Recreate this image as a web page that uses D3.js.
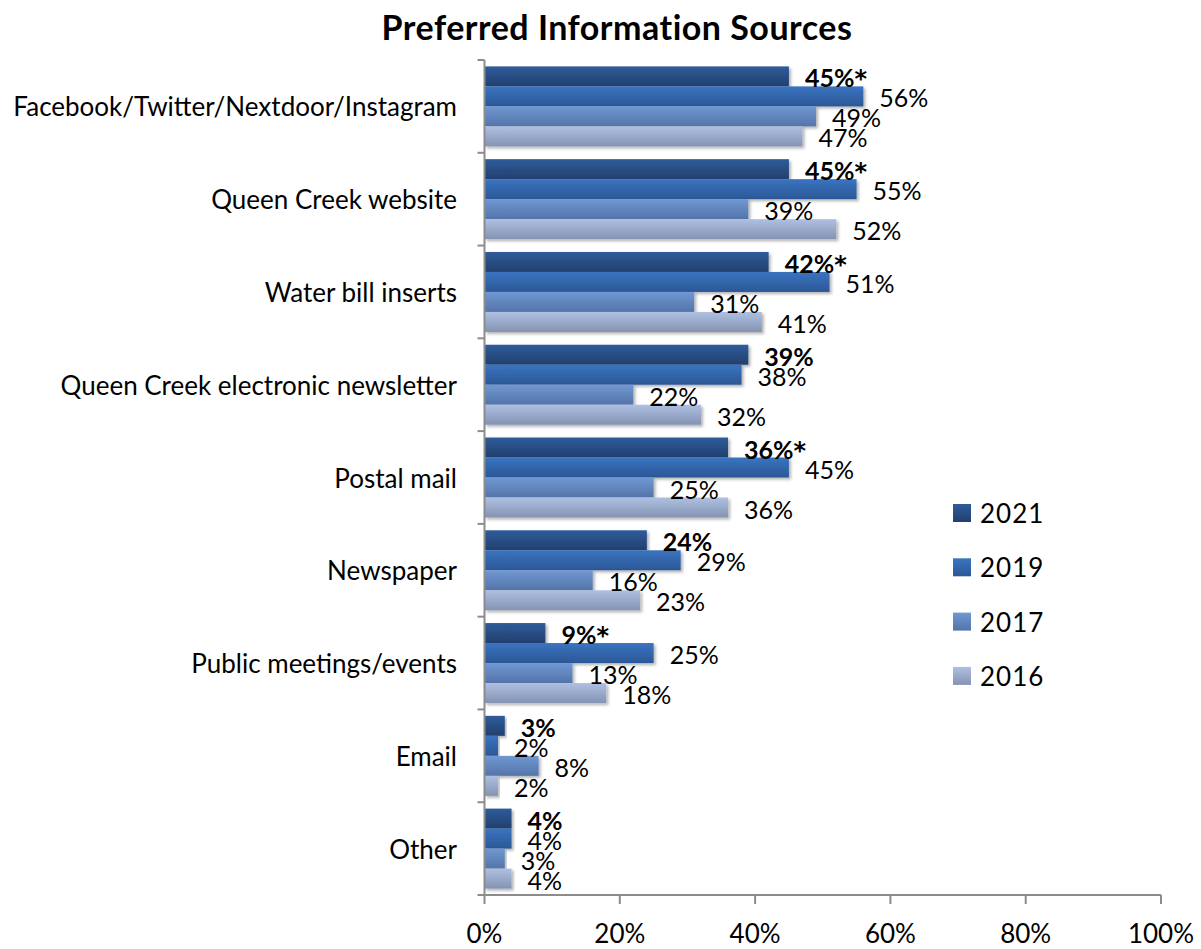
<!DOCTYPE html>
<html><head><meta charset="utf-8">
<script src="https://cdn.jsdelivr.net/npm/d3@7"></script>
<style>body{margin:0;background:#fff}svg{display:block}text{font-family:Lato,"Open Sans",sans-serif;fill:#000}</style>
</head><body><svg id="c" width="1201" height="949"></svg>
<script>
const categories = ["Facebook/Twitter/Nextdoor/Instagram","Queen Creek website","Water bill inserts","Queen Creek electronic newsletter","Postal mail","Newspaper","Public meetings/events","Email","Other"];
const years = ["2021","2019","2017","2016"];
const v2021 = [45,45,42,39,36,24,9,3,4];
const v2019 = [56,55,51,38,45,29,25,2,4];
const v2017 = [49,39,31,22,25,16,13,8,3];
const v2016 = [47,52,41,32,36,23,18,2,4];
const labels2021 = ["45%*","45%*","42%*","39%","36%*","24%","9%*","3%","4%"];
const xTicks = [0,20,40,60,80,100];
const series = [v2021,v2019,v2017,v2016];
const colorTop = ["#2f5c9a","#3a74c0","#7098d2","#aec0e2"];
const colorBot = ["#223f6e","#2b5796","#5474aa","#8593b2"];

const svg = d3.select("#c");
const defs = svg.append("defs");
years.forEach((y,i)=>{
  const g = defs.append("linearGradient").attr("id","g"+i).attr("x1",0).attr("y1",0).attr("x2",0).attr("y2",1);
  g.append("stop").attr("offset","0%").attr("stop-color",colorTop[i]);
  g.append("stop").attr("offset","100%").attr("stop-color",colorBot[i]);
});
const f = defs.append("filter").attr("id","sh").attr("x","-5%").attr("y","-20%").attr("width","115%").attr("height","160%");
f.append("feDropShadow").attr("dx",2).attr("dy",2).attr("stdDeviation",1.5).attr("flood-color","#000").attr("flood-opacity",0.3);

const x0 = 484.5, x1 = 1161, yTop = 60, yBot = 895;
const x = d3.scaleLinear().domain([0,100]).range([x0,x1]);
const y = d3.scaleBand().domain(categories).range([yTop,yBot]).paddingInner(0).paddingOuter(0);
const yi = d3.scaleBand().domain(years).range([0,80]);
const off = (y.bandwidth()-80)/2;

// title
svg.append("text").attr("x",617).attr("y",40).attr("text-anchor","middle").style("font-size","34px").style("font-weight","bold").style("letter-spacing","0.5px").text("Preferred Information Sources");

// bars
categories.forEach((c,ci)=>{
  const g = svg.append("g").attr("transform",`translate(0,${y(c)+off})`);
  years.forEach((yr,si)=>{
    const val = series[si][ci];
    g.append("rect").attr("x",x(0)).attr("y",yi(yr)).attr("width",x(val)-x(0)).attr("height",yi.bandwidth())
      .attr("fill",`url(#g${si})`).attr("filter","url(#sh)");
  });
});
// labels
categories.forEach((c,ci)=>{
  const g = svg.append("g").attr("transform",`translate(0,${y(c)+off})`);
  years.forEach((yr,si)=>{
    const val = series[si][ci];
    const t = g.append("text").attr("x",x(val)+16).attr("y",yi(yr)+yi.bandwidth()+1)
      .style("font-size","25px").style("font-weight",si===0?"bold":"normal");
    if(si===0){
      const s = labels2021[ci];
      const star = s.endsWith("*");
      t.append("tspan").text(star? s.slice(0,-1) : s);
      if(star) t.append("tspan").style("font-family","'DejaVu Sans'").style("font-size","24px").text("*");
    } else t.text(val+"%");
  });
});

// axes
const axG = svg.append("g").attr("stroke","#8c8c8c").attr("stroke-width",2).attr("fill","none");
axG.append("line").attr("x1",x0).attr("x2",x0).attr("y1",yTop).attr("y2",yBot);
axG.append("line").attr("x1",x0).attr("x2",x1).attr("y1",yBot).attr("y2",yBot);
const bounds = categories.map(c=>y(c)).concat([yBot]);
bounds.forEach(b=>axG.append("line").attr("x1",x0-7).attr("x2",x0).attr("y1",b).attr("y2",b));
xTicks.forEach(t=>axG.append("line").attr("x1",x(t)).attr("x2",x(t)).attr("y1",yBot).attr("y2",yBot+9));
xTicks.forEach(t=>svg.append("text").attr("x",x(t)).attr("y",943).attr("text-anchor","middle").style("font-size","26px").text(t+"%"));

// category labels
categories.forEach(c=>svg.append("text").attr("x",457).attr("y",y(c)+y.bandwidth()/2+10).attr("text-anchor","end").style("font-size","26px").text(c));

// legend
years.forEach((yr,i)=>{
  const cy = 513 + i*54.3;
  svg.append("rect").attr("x",953).attr("y",cy-9).attr("width",18).attr("height",18).attr("fill",`url(#g${i})`);
  svg.append("text").attr("x",980).attr("y",cy+10).style("font-size","26px").style("letter-spacing","1px").text(yr);
});
</script></body></html>
